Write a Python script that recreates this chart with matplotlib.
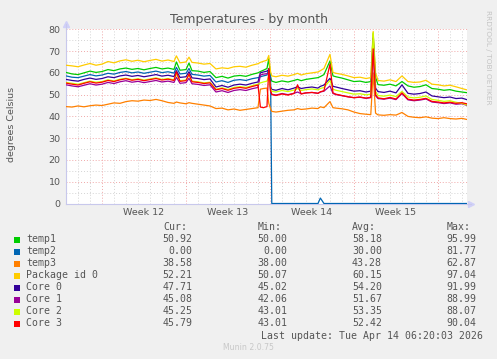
import matplotlib
matplotlib.use("Agg")
import matplotlib.pyplot as plt
from matplotlib.patches import Rectangle

W, H = 497, 359

# time in days, 0 = start of week 12
days = [-3.0, -2.5, -2.0, -1.5, -1.0, -0.5, 0.0, 0.5, 1.0, 1.5, 2.0, 2.5, 3.0, 3.5,
        4.0, 4.5, 5.0, 5.5, 6.0, 6.2, 6.5, 7.0, 7.25, 7.5, 8.0, 8.5, 9.0, 9.5, 10.0,
        10.5, 11.0, 11.5, 12.0, 12.5, 13.0, 13.2, 13.45, 13.75, 13.9, 14.05, 14.15,
        14.5, 15.0, 15.5, 16.0, 16.3, 16.6, 17.0, 17.5, 18.0, 18.2, 18.5, 19.0, 19.25,
        19.5, 20.0, 20.5, 21.0, 21.5, 22.0, 22.4, 22.6, 22.8, 23.0, 23.5, 24.0, 24.5,
        25.0, 25.5, 26.0, 26.5, 27.0, 27.5, 28.0, 28.5, 29.0, 29.5, 30.0, 30.4]

temp1 = [60.2, 59.5, 59.2, 60.0, 60.8, 60.2, 60.6, 61.5, 61.0, 61.8, 62.2, 61.6, 62.0, 61.4,
         62.0, 62.5, 61.8, 62.2, 61.6, 65.0, 61.2, 61.5, 64.5, 61.0, 60.8, 60.2, 60.6, 57.8, 58.4,
         57.6, 58.5, 58.8, 58.4, 59.3, 60.0, 60.6, 61.2, 62.0, 66.5, 58.0, 56.2,
         55.6, 56.3, 55.8, 56.5, 57.0, 56.4, 57.0, 57.4, 57.8, 58.3, 59.2, 65.5, 58.6,
         58.2, 57.6, 56.8, 56.0, 56.2, 55.6, 56.0, 78.0, 58.0, 54.6, 54.3, 54.8, 54.0,
         56.0, 54.0, 53.4, 53.7, 54.5, 52.8, 52.5, 52.0, 52.3, 51.6, 51.2, 50.9]

temp2 = [58.6, 58.0, 57.8, 58.5, 59.2, 58.6, 59.0, 59.8, 59.4, 60.2, 60.6, 60.0, 60.4, 59.8,
         60.3, 60.8, 60.1, 60.5, 59.9, 62.5, 59.5, 59.8, 62.0, 59.3, 59.0, 58.5, 58.8, 55.8, 56.4,
         55.6, 56.6, 56.9, 56.5, 57.3, 57.8, 58.2, 58.6, 59.0, 62.0, 58.0, 0.0,
         0.0, 0.0, 0.0, 0.0, 0.0, 0.0, 0.0, 0.0, 0.0, 2.5, 0.0, 0.0, 0.0,
         0.0, 0.0, 0.0, 0.0, 0.0, 0.0, 0.0, 0.0, 0.0, 0.0, 0.0, 0.0, 0.0,
         0.0, 0.0, 0.0, 0.0, 0.0, 0.0, 0.0, 0.0, 0.0, 0.0, 0.0, 0.0]

temp3 = [44.5, 44.3, 44.8, 44.4, 44.9, 45.2, 45.0, 45.6, 46.2, 46.0, 46.8, 47.2, 47.0, 47.5,
         47.3, 47.8, 47.2, 46.4, 46.0, 46.6, 46.2, 45.8, 46.3, 46.0, 45.6, 45.2, 44.8, 43.6, 43.8,
         43.0, 43.4, 42.8, 43.2, 43.6, 44.0, 52.5, 52.8, 53.0, 46.0, 43.5, 42.3,
         42.0, 42.4, 42.8, 43.0, 43.6, 43.2, 43.4, 43.8, 43.6, 44.4, 44.0, 46.8, 44.0,
         43.8, 43.5, 43.0, 42.0, 41.3, 41.0, 40.8, 60.0, 41.5, 40.7, 40.5, 40.8, 40.6,
         41.8, 40.0, 39.6, 39.4, 39.8, 39.2, 39.0, 39.4, 39.0, 38.8, 39.1, 38.6]

package0 = [63.5, 63.2, 62.8, 63.6, 64.3, 63.5, 64.0, 65.2, 64.6, 65.5, 66.0, 65.3, 65.8, 65.1,
            65.7, 66.2, 65.4, 65.9, 65.2, 67.8, 64.6, 65.0, 67.2, 64.8, 64.5, 64.0, 64.3, 61.8, 62.3,
            62.0, 62.8, 63.0, 62.6, 63.5, 64.2, 64.8, 65.3, 65.8, 68.0, 60.5, 58.6,
            58.2, 58.9, 58.5, 59.2, 59.8, 59.0, 59.6, 60.0, 60.4, 61.0, 62.0, 68.5, 60.2,
            59.8, 59.3, 58.6, 57.8, 58.0, 57.4, 57.8, 79.0, 60.0, 56.5, 56.2, 56.8, 56.0,
            58.6, 56.0, 55.6, 55.8, 56.6, 54.8, 54.5, 54.0, 54.3, 53.6, 52.8, 52.2]

core0 = [57.0, 56.5, 56.2, 57.0, 57.6, 57.0, 57.4, 58.2, 57.8, 58.6, 59.0, 58.4, 58.8, 58.2,
         58.7, 59.2, 58.5, 58.9, 58.3, 61.0, 57.9, 58.2, 60.5, 57.7, 57.4, 56.9, 57.2, 53.5, 54.2,
         53.4, 54.4, 54.8, 54.4, 55.2, 55.8, 60.0, 60.4, 60.8, 61.5, 53.5, 52.4,
         52.0, 52.8, 52.2, 53.0, 53.6, 52.8, 53.2, 53.5, 53.0, 53.8, 54.4, 57.5, 53.8,
         53.5, 52.8, 52.2, 51.6, 51.8, 51.2, 51.6, 76.0, 53.0, 51.4, 51.0, 51.6, 50.8,
         54.5, 50.6, 50.2, 50.5, 51.2, 49.4, 49.0, 48.6, 48.9, 48.2, 48.4, 47.7]

core1 = [54.5, 54.0, 53.6, 54.3, 55.0, 54.4, 54.8, 55.6, 55.1, 55.9, 56.4, 55.7, 56.1, 55.5,
         56.0, 56.5, 55.8, 56.2, 55.6, 58.0, 55.2, 55.5, 57.5, 55.0, 54.7, 54.2, 54.5, 51.2, 51.8,
         51.0, 51.9, 52.3, 51.9, 52.7, 53.3, 59.0, 59.4, 59.6, 60.0, 51.5, 50.2,
         49.8, 50.5, 50.0, 50.6, 51.2, 50.4, 50.8, 51.0, 50.6, 51.2, 51.6, 54.0, 50.5,
         50.0, 49.5, 49.0, 48.6, 48.8, 48.3, 48.6, 70.0, 49.5, 48.2, 47.9, 48.4, 47.7,
         50.5, 47.6, 47.2, 47.5, 48.0, 46.6, 46.3, 45.9, 46.2, 45.6, 45.8, 45.1]

core2 = [55.6, 55.2, 54.8, 55.5, 56.2, 55.7, 56.0, 56.8, 56.3, 57.1, 57.5, 56.9, 57.3, 56.7,
         57.2, 57.7, 57.0, 57.4, 56.8, 59.5, 56.4, 56.7, 59.0, 56.2, 55.9, 55.4, 55.7, 52.5, 53.1,
         52.4, 53.3, 53.7, 53.3, 54.1, 54.8, 55.4, 55.8, 56.2, 58.5, 52.8, 51.5,
         51.2, 51.9, 51.4, 52.1, 52.8, 51.9, 52.3, 52.6, 52.2, 52.8, 53.3, 56.5, 52.5,
         52.0, 51.4, 50.8, 50.2, 50.4, 49.9, 50.2, 78.5, 51.5, 49.6, 49.3, 49.8, 49.1,
         51.5, 48.9, 48.5, 48.8, 49.4, 47.8, 47.4, 46.9, 47.2, 46.5, 46.0, 45.3]

core3 = [55.3, 54.8, 54.4, 55.2, 55.9, 55.3, 55.7, 56.5, 56.0, 56.8, 57.3, 56.6, 57.0, 56.4,
         56.9, 57.4, 56.7, 57.1, 56.5, 60.5, 56.1, 56.4, 59.5, 55.9, 55.6, 55.1, 55.4, 52.2, 52.8,
         52.0, 52.9, 53.3, 52.9, 53.7, 54.4, 44.3, 44.0, 44.5, 62.0, 51.8, 50.0,
         49.6, 50.3, 49.8, 50.5, 54.5, 50.3, 50.8, 51.0, 50.6, 51.3, 51.8, 64.0, 50.8,
         50.2, 49.6, 49.0, 48.6, 48.9, 48.4, 48.8, 71.0, 50.0, 48.5, 48.1, 48.7, 48.0,
         50.8, 47.9, 47.5, 47.8, 48.3, 46.9, 46.6, 46.2, 46.5, 46.0, 46.3, 45.8]

series_names = ["temp1", "temp2", "temp3", "Package id 0", "Core 0", "Core 1", "Core 2", "Core 3"]
series_colors = ["#00CC00", "#0066B3", "#FF8000", "#FFCC00", "#330099", "#990099", "#CCFF00", "#FF0000"]
series_data = [temp1, temp2, temp3, package0, core0, core1, core2, core3]
cur = [50.92, 0.00, 38.58, 52.21, 47.71, 45.08, 45.25, 45.79]
mins = [50.00, 0.00, 38.00, 50.07, 45.02, 42.06, 43.01, 43.01]
avgs = [58.18, 30.00, 43.28, 60.15, 54.20, 51.67, 53.35, 52.42]
maxs = [95.99, 81.77, 62.87, 97.04, 91.99, 88.99, 88.07, 90.04]

week_labels = ["Week 12", "Week 13", "Week 14", "Week 15"]
week_starts = [0, 7, 14, 21, 28]
y_ticks = [0, 10, 20, 30, 40, 50, 60, 70, 80]


def fx(x):
    return x / W


def fy(y):
    return 1 - y / H


txt = "#555555"
fig = plt.figure(figsize=(W / 100, H / 100), dpi=100, facecolor="#F0F0F0")
ax = fig.add_axes([fx(66), fy(203.5), 401 / W, 174.2 / H])
ax.set_facecolor("white")
ax.set_xlim(-3, 30.42)
ax.set_ylim(0, 80)

# grid
dot = (0, (1, 2))
for v in range(5, 80, 10):
    ax.axhline(v, color="#d4d4d4", lw=0.7, ls=dot, zorder=1)
for v in range(10, 81, 10):
    ax.axhline(v, color="#f0a8a8", lw=0.7, ls=dot, zorder=1, clip_on=False)
for d in range(-2, 31):
    if d in week_starts:
        ax.axvline(d, color="#f0a8a8", lw=0.7, ls=dot, zorder=1)
    else:
        ax.axvline(d, color="#d4d4d4", lw=0.7, ls=dot, zorder=1)

for vals, col in zip(series_data, series_colors):
    ax.plot(days, vals, color=col, lw=0.9, zorder=3)

for s in ["top", "right"]:
    ax.spines[s].set_visible(False)
for s in ["left", "bottom"]:
    ax.spines[s].set_color("#c8c8ec")
    ax.spines[s].set_linewidth(0.8)
ax.plot([0], [1.03], marker="^", ms=4.5, color="#d0d0f8", transform=ax.transAxes, clip_on=False)
ax.plot([1.01], [0], marker=">", ms=4.5, color="#d0d0f8", transform=ax.transAxes, clip_on=False)
ax.plot([0, 0], [1, 1.03], color="#c8c8ec", lw=0.8, transform=ax.transAxes, clip_on=False)
ax.plot([1, 1.01], [0, 0], color="#c8c8ec", lw=0.8, transform=ax.transAxes, clip_on=False)

ax.set_yticks(y_ticks)
ax.tick_params(axis="y", length=0, pad=4, labelsize=6.8, labelcolor=txt)
ax.set_xticks([w + 3.5 for w in week_starts[:4]])
ax.set_xticklabels(week_labels)
ax.tick_params(axis="x", length=0, pad=3, labelsize=6.8, labelcolor=txt)

fig.text(fx(248.5), fy(19), "Temperatures - by month", ha="center", va="center",
         fontsize=9, color=txt)
fig.text(fx(12), fy(124), "degrees Celsius", rotation=90, ha="center", va="center",
         fontsize=6.8, color=txt)
fig.text(fx(488), fy(57), "RRDTOOL / TOBI OETIKER", rotation=270, ha="center", va="center",
         fontsize=5.3, color="#c4c4c4")

# legend table
mono = dict(family="DejaVu Sans Mono", fontsize=7.1, color=txt, va="center")
for hx, h in zip([163.3, 257.7, 352.3, 446.7], ["Cur:", "Min:", "Avg:", "Max:"]):
    fig.text(fx(hx), fy(227), h, ha="left", **mono)
for i, name in enumerate(series_names):
    y = 239.5 + 12 * i
    fig.patches.append(Rectangle((fx(14), fy(y + 3)), 6 / W, 6 / H, transform=fig.transFigure,
                                 facecolor=series_colors[i], edgecolor="none"))
    fig.text(fx(26.5), fy(y), name, ha="left", **mono)
    for cx, v in zip([192.7, 287.3, 382.0, 476.7], [cur[i], mins[i], avgs[i], maxs[i]]):
        fig.text(fx(cx), fy(y), f"{v:.2f}", ha="right", **mono)
fig.text(fx(482.7), fy(335.7), "Last update: Tue Apr 14 06:20:03 2026", ha="right", **mono)
fig.text(fx(248), fy(347.5), "Munin 2.0.75", ha="center", va="center", fontsize=5.6,
         color="#c8c8c8")

fig.savefig("out.png", dpi=100, facecolor=fig.get_facecolor())
